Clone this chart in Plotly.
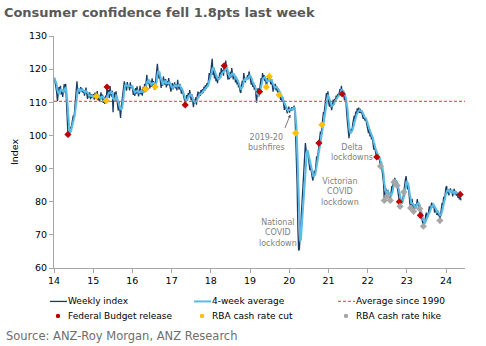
import pandas as pd
import plotly.graph_objects as go

# Weekly ANZ-Roy Morgan consumer confidence index, one list per calendar year
# (each list starts at the first Sunday of that year, one value per week)
weekly_2014 = [117.4, 116.0, 115.2, 113.0, 110.3, 112.5, 114.6, 113.1, 115.0, 112.4,
               113.8, 111.6, 114.4, 115.5, 113.0, 115.6, 110.0, 104.5, 100.3, 99.6,
               101.0, 102.6, 101.8, 103.5, 104.2, 106.0, 105.3, 108.7, 111.5, 113.2,
               116.3, 112.8, 114.0, 112.5, 113.8, 114.6, 113.1, 114.2, 112.9, 113.6,
               112.0, 113.5, 114.4, 112.6, 111.0, 112.8, 111.5, 113.0, 110.9, 112.4,
               111.3, 112.0]
weekly_2015 = [112.5, 110.8, 112.9, 111.0, 111.8, 113.4, 110.6, 112.1, 110.2, 111.5,
               113.0, 110.9, 112.3, 109.8, 111.6, 109.5, 112.0, 110.5, 114.6, 112.0,
               113.8, 111.2, 114.9, 112.6, 111.7, 113.5, 107.0, 111.5, 113.0, 110.4,
               113.3, 111.0, 109.0, 107.5, 110.2, 108.0, 105.3, 108.6, 110.8, 114.0,
               115.8, 116.3, 114.2, 115.6, 113.5, 116.1, 114.6, 115.2, 113.6, 116.0,
               114.3, 115.0]
weekly_2016 = [114.0, 112.2, 113.8, 111.9, 114.3, 112.6, 114.8, 113.0, 111.8, 113.2,
               115.0, 112.4, 113.6, 112.0, 114.5, 113.0, 115.6, 114.0, 116.2, 118.3,
               115.5, 117.0, 115.8, 114.2, 116.5, 114.6, 117.2, 115.0, 116.4, 113.8,
               114.7, 117.5, 118.8, 121.6, 119.0, 117.2, 118.5, 116.0, 114.3, 116.2,
               115.0, 117.8, 116.1, 115.3, 117.0, 114.5, 116.3, 115.1, 117.3, 116.0,
               114.0, 113.2]
weekly_2017 = [114.5, 115.8, 113.9, 114.7, 116.0, 114.2, 115.5, 113.6, 116.8, 115.0,
               113.8, 115.6, 114.3, 112.6, 114.0, 112.2, 111.7, 110.8, 109.2, 110.5,
               112.2, 110.9, 112.8, 111.5, 113.7, 112.0, 110.6, 112.4, 110.2, 108.5,
               110.8, 109.7, 111.5, 109.3, 111.8, 113.2, 111.6, 113.0, 111.9, 113.7,
               112.5, 114.0, 112.8, 114.7, 113.5, 115.2, 114.0, 115.8, 114.6, 116.5,
               118.8, 117.2, 119.5]
weekly_2018 = [120.5, 123.1, 118.3, 119.6, 117.2, 118.8, 116.4, 118.0, 115.8, 117.5,
               116.8, 119.0, 117.3, 120.3, 118.6, 119.8, 118.0, 121.0, 119.4, 122.6,
               120.0, 118.5, 116.8, 118.6, 117.0, 119.2, 117.5, 120.3, 118.4, 116.9,
               118.6, 117.8, 116.0, 117.6, 115.4, 116.8, 114.5, 115.6, 113.4, 112.8,
               115.0, 116.5, 115.2, 118.8, 117.0, 116.0, 117.4, 116.8, 118.2, 117.0,
               119.3, 118.0]
weekly_2019 = [117.6, 115.3, 116.8, 114.6, 116.0, 113.8, 115.2, 112.0, 109.9, 112.6,
               114.3, 111.8, 113.2, 115.6, 117.3, 116.0, 118.8, 117.0, 118.2, 116.4,
               117.5, 114.6, 116.3, 117.8, 116.5, 117.8, 116.8, 115.4, 117.0, 115.0,
               113.2, 115.3, 114.0, 115.6, 113.6, 114.8, 113.0, 114.2, 112.2, 113.0,
               110.7, 111.7, 110.2, 111.5, 109.0, 107.7, 109.2, 108.0, 107.2, 106.7,
               108.0, 108.7]
weekly_2020 = [106.9, 108.2, 107.5, 108.5, 107.6, 108.7, 109.0, 107.8, 100.7, 95.0,
               85.0, 72.2, 65.3, 65.6, 69.4, 74.0, 78.5, 82.4, 86.0, 89.5,
               93.5, 97.7, 95.5, 93.8, 95.2, 93.0, 91.8, 89.5, 90.6, 88.0,
               87.5, 86.4, 88.0, 89.4, 88.6, 91.0, 93.7, 92.8, 95.4, 97.7,
               99.5, 101.2, 100.4, 103.2, 105.5, 107.0, 106.8, 108.7, 110.5, 112.8,
               111.4, 113.3]
weekly_2021 = [110.0, 108.7, 110.2, 109.0, 107.6, 109.2, 110.8, 109.5, 111.0, 110.7,
               112.0, 111.2, 112.5, 111.7, 112.8, 114.0, 113.2, 115.0, 112.5, 113.4,
               112.2, 110.6, 112.0, 110.2, 106.5, 103.7, 101.0, 99.2, 101.5, 100.7,
               102.0, 101.2, 103.5, 104.7, 106.0, 104.8, 107.2, 106.3, 108.2, 107.0,
               108.4, 106.8, 108.0, 106.7, 107.5, 105.9, 105.0, 106.2, 104.5, 105.3,
               103.9, 103.4]
weekly_2022 = [101.5, 100.7, 102.0, 99.7, 100.5, 98.8, 99.7, 97.5, 95.7, 96.8,
               95.0, 94.2, 93.5, 94.5, 92.8, 93.6, 92.0, 90.7, 91.5, 89.3,
               87.2, 85.7, 80.4, 82.7, 84.0, 82.9, 81.7, 83.6, 82.4, 81.5,
               80.4, 82.6, 84.7, 83.5, 86.6, 85.9, 87.2, 86.0, 85.8, 84.9,
               83.6, 81.7, 80.0, 78.6, 80.2, 80.7, 79.5, 81.8, 82.9, 84.3,
               86.5, 87.7]
weekly_2023 = [85.5, 83.7, 84.8, 81.0, 79.6, 78.1, 79.7, 80.9, 78.8, 77.1,
               78.5, 79.2, 78.0, 79.6, 80.8, 79.0, 78.6, 77.9, 75.9, 76.8,
               74.9, 73.8, 72.6, 74.1, 73.5, 75.8, 76.7, 75.0, 75.6, 77.2,
               78.6, 77.0, 78.9, 79.7, 78.2, 79.4, 78.6, 76.7, 78.0, 77.1,
               76.0, 77.4, 75.8, 76.5, 74.3, 76.2, 78.0, 79.7, 78.8, 81.5,
               80.2, 82.8, 84.2]
weekly_2024 = [84.7, 82.5, 83.8, 81.9, 83.2, 84.0, 82.7, 83.5, 81.6, 82.7,
               83.9, 82.2, 83.2, 81.8, 82.7, 81.2, 82.0, 80.7, 82.2, 80.4]

yearly_series = {
    2014: weekly_2014, 2015: weekly_2015, 2016: weekly_2016, 2017: weekly_2017,
    2018: weekly_2018, 2019: weekly_2019, 2020: weekly_2020, 2021: weekly_2021,
    2022: weekly_2022, 2023: weekly_2023, 2024: weekly_2024,
}

long_run_average = 110.3  # average since 1990

budget_dates = ["2014-05-13", "2015-05-12", "2016-05-03", "2017-05-09", "2018-05-08",
                "2019-04-02", "2020-10-06", "2021-05-11", "2022-03-29", "2022-10-25",
                "2023-05-09", "2024-05-14"]
cut_dates = ["2015-02-03", "2015-05-05", "2016-05-03", "2016-08-02", "2019-06-04",
             "2019-07-02", "2019-10-01", "2020-03-03", "2020-11-03"]
hike_dates = ["2022-05-03", "2022-06-07", "2022-07-05", "2022-08-02", "2022-09-06",
              "2022-10-04", "2022-11-01", "2022-12-06", "2023-02-07", "2023-03-07",
              "2023-05-02", "2023-06-06", "2023-11-07"]

year_ticks = [f"{y}-01-01" for y in range(2014, 2025)]
year_labels = ["14", "15", "16", "17", "18", "19", "20", "21", "22", "23", "24"]

# ---- assemble the weekly series (Sunday survey dates) ----
parts = []
for year, vals in yearly_series.items():
    jan1 = pd.Timestamp(f"{year}-01-01")
    first_sunday = jan1 + pd.Timedelta(days=(6 - jan1.weekday()) % 7)
    dates = pd.date_range(first_sunday, periods=len(vals), freq="7D")
    parts.append(pd.Series(vals, index=dates))
weekly = pd.concat(parts)
four_week = weekly.rolling(4, min_periods=1).mean()


def on_series(dates):
    idx = weekly.index.get_indexer(pd.to_datetime(dates), method="nearest")
    return weekly.index[idx], weekly.values[idx]


FONT = "DejaVu Sans"
NAVY = "#1B3A63"
LIGHT_BLUE = "#58BCE6"
RED_DASH = "#F2603C"
BUDGET_RED = "#C00000"
CUT_GOLD = "#FFC000"
HIKE_GREY = "#A6A6A6"
AXIS_GREY = "#A6A6A6"
NOTE_GREY = "#7F7F7F"
AVG_DASH = "3px,2px"

# figure geometry (pixels) used to place the hand-built legend
W, H = 486, 346
M_L, M_R, M_T, M_B = 54, 21, 36, 77.5
PLOT_W = W - M_L - M_R
PLOT_H = H - M_T - M_B


def px_to_paper(px, py):
    return (px - M_L) / PLOT_W, (H - M_B - py) / PLOT_H


fig = go.Figure()

fig.add_trace(go.Scatter(x=weekly.index, y=weekly.values, mode="lines",
                         name="Weekly index", line=dict(color=NAVY, width=1.3)))
fig.add_trace(go.Scatter(x=four_week.index, y=four_week.values, mode="lines",
                         name="4-week average", line=dict(color=LIGHT_BLUE, width=2)))
fig.add_trace(go.Scatter(x=[pd.Timestamp("2014-01-01"), pd.Timestamp("2024-06-26")],
                         y=[long_run_average, long_run_average], mode="lines",
                         name="Average since 1990",
                         line=dict(color=RED_DASH, width=1.2, dash=AVG_DASH)))

event_sets = [(budget_dates, "Federal Budget release", BUDGET_RED),
              (cut_dates, "RBA cash rate cut", CUT_GOLD),
              (hike_dates, "RBA cash rate hike", HIKE_GREY)]
for dates, name, color in event_sets:
    mx, my = on_series(dates)
    fig.add_trace(go.Scatter(x=mx, y=my, mode="markers", name=name,
                             marker=dict(color=color, size=5.5, symbol="diamond",
                                         line=dict(width=0))))

# ---- legend: three columns, two rows below the axis ----
legend_font = dict(family=FONT, size=9, color="#000000")
col_text_x = [68, 212, 356]
row_y = [302, 316.5]
line_items = [("Weekly index", NAVY, 1.3, "solid"),
              ("4-week average", LIGHT_BLUE, 2, "solid"),
              ("Average since 1990", RED_DASH, 1.2, AVG_DASH)]
for (label, color, width, dash), tx in zip(line_items, col_text_x):
    x0, y0 = px_to_paper(tx - 18, row_y[0])
    x1, _ = px_to_paper(tx - 1, row_y[0])
    fig.add_shape(type="line", xref="paper", yref="paper", x0=x0, x1=x1, y0=y0, y1=y0,
                  line=dict(color=color, width=width, dash=dash))
    lx, ly = px_to_paper(tx, row_y[0])
    fig.add_annotation(xref="paper", yref="paper", x=lx, y=ly, text=label,
                       showarrow=False, xanchor="left", yanchor="middle",
                       font=legend_font, xshift=-2)
for (_, label, color), tx in zip(event_sets, col_text_x):
    mx, my = px_to_paper(tx - 10, row_y[1])
    fig.add_shape(type="circle", xref="paper", yref="paper",
                  xsizemode="pixel", ysizemode="pixel", xanchor=mx, yanchor=my,
                  x0=-2.2, x1=2.2, y0=-2.2, y1=2.2,
                  fillcolor=color, line=dict(width=0))
    lx, ly = px_to_paper(tx, row_y[1])
    fig.add_annotation(xref="paper", yref="paper", x=lx, y=ly, text=label,
                       showarrow=False, xanchor="left", yanchor="middle",
                       font=legend_font, xshift=-2)

# ---- event notes on the chart ----
note_font = dict(family=FONT, size=8, color=NOTE_GREY)
notes = [
    ("2019-06-05", 98.0, "2019-20<br>bushfires"),
    ("2019-09-17", 70.6, "National<br>COVID<br>lockdown"),
    ("2021-04-20", 82.9, "Victorian<br>COVID<br>lockdown"),
    ("2021-08-07", 94.7, "Delta<br>lockdowns"),
]
for nx, ny, txt in notes:
    fig.add_annotation(x=nx, y=ny, text=txt, showarrow=False, font=note_font,
                       xanchor="center", yanchor="middle")

# arrow pointing at the summer bushfire dip
fig.add_annotation(x="2020-01-12", y=106.3, text="", showarrow=True,
                   ax=-6, ay=15, arrowhead=2, arrowsize=0.8, arrowwidth=0.8,
                   arrowcolor="#595959")

sx, sy = px_to_paper(4, 337)
fig.add_annotation(xref="paper", yref="paper", x=sx, y=sy,
                   text="Source: ANZ-Roy Morgan, ANZ Research", showarrow=False,
                   xanchor="left", yanchor="middle",
                   font=dict(family=FONT, size=11.5, color="#6E6E6E"))

fig.update_layout(
    width=W, height=H,
    margin=dict(l=M_L, r=M_R, t=M_T, b=M_B),
    paper_bgcolor="white", plot_bgcolor="white",
    font=dict(family=FONT, size=9.5, color="#000000"),
    title=dict(text="<b>Consumer confidence fell 1.8pts last week</b>",
               x=0.008, xref="container", xanchor="left",
               y=0.965, yref="container", yanchor="middle",
               font=dict(family=FONT, size=13, color="#595959")),
    showlegend=False,
    xaxis=dict(type="date", range=["2014-01-01", "2024-06-26"],
               tickvals=year_ticks, ticktext=year_labels,
               showgrid=False, zeroline=False, showline=True,
               linecolor=AXIS_GREY, linewidth=1,
               ticks="outside", ticklen=4, tickcolor=AXIS_GREY,
               tickfont=dict(family=FONT, size=9.5, color="#000000")),
    yaxis=dict(range=[60, 130], tickvals=[60, 70, 80, 90, 100, 110, 120, 130],
               showgrid=False, zeroline=False, showline=True,
               linecolor=AXIS_GREY, linewidth=1,
               ticks="outside", ticklen=4, tickcolor=AXIS_GREY,
               tickfont=dict(family=FONT, size=9.5, color="#000000"),
               title=dict(text="Index", standoff=8,
                          font=dict(family=FONT, size=9.5, color="#000000"))),
)

fig.write_html("out.html")
